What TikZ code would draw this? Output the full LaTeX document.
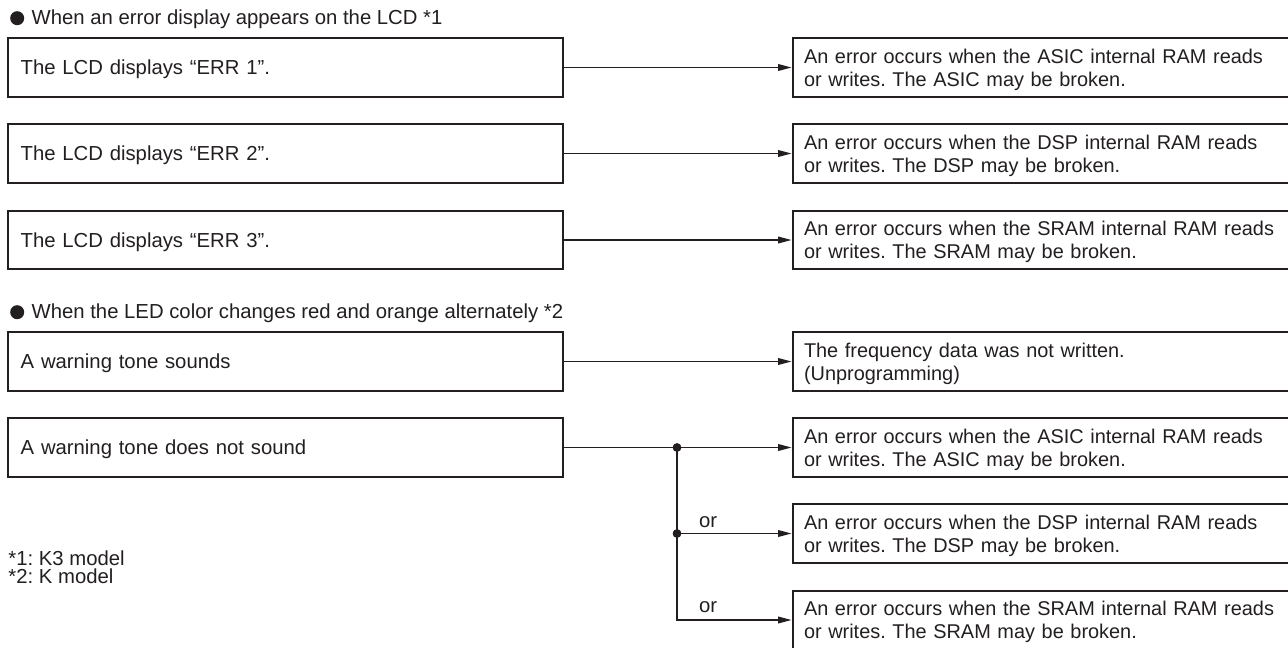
\documentclass[tikz,border=0pt]{standalone}
\usepackage{fontspec}
\setmainfont{Liberation Sans}
\usetikzlibrary{arrows.meta}
\definecolor{ink}{HTML}{231F20}
\frenchspacing
\tikzset{
  txt/.style={font=\fontsize{20.3pt}{23.3pt}\selectfont, text=ink},
  rtxt/.style={font=\fontsize{19.9pt}{23.3pt}\selectfont, text=ink},
  lbox/.style={txt, draw=ink, line width=2pt, rectangle, inner ysep=0pt, inner xsep=12.4pt,
    text width=529.6pt, align=left, minimum height=58.4pt, text height=14.4pt, text depth=0pt},
  rbox/.style={rtxt, draw=ink, line width=2pt, rectangle, inner ysep=0pt, inner xsep=11.3pt,
    text width=504.7pt, align=left, minimum height=58.4pt, text height=14.3pt, text depth=23.3pt},
  conn/.style={draw=ink, line width=1.7pt, -{Triangle[length=13.5pt,width=6.5pt]}},
  jdot/.style={circle, fill=ink, inner sep=0pt, minimum size=8.5pt},
  hbullet/.style={circle, fill=ink, inner sep=0pt, minimum size=14pt},
  plain/.style={txt, inner sep=0pt, anchor=base west},
}
\begin{document}
\begin{tikzpicture}[x=1pt,y=-1pt]
\useasboundingbox (0,0) rectangle (1288,648);
\clip (0,0) rectangle (1288,648);
\fill[white] (0,0) rectangle (1288,648);

% headings
\node[hbullet] (b1) at (17.2,18.2) {};
\node[plain] (h1) at (31.5,24.5) {When an error display appears on the LCD *1};
\node[hbullet] (b2) at (17.2,312.2) {};
\node[plain] (h2) at (31.5,318.5) {When the LED color changes red and orange alternately *2};

% left boxes
\node[lbox] (l1) at (285.5,67.5)  {The LCD displays “ERR 1”.};
\node[lbox] (l2) at (285.5,153.5) {The LCD displays “ERR 2”.};
\node[lbox] (l3) at (285.5,240)   {The LCD displays “ERR 3”.};
\node[lbox] (l4) at (285.5,361.5) {A warning tone sounds};
\node[lbox] (l5) at (285.5,447.5) {A warning tone does not sound};

% right boxes
\node[rbox] (r1) at (1056.35,67.5)  {An error occurs when the ASIC internal RAM reads\\or writes. The ASIC may be broken.};
\node[rbox] (r2) at (1056.35,153.5) {An error occurs when the DSP internal RAM reads\\or writes. The DSP may be broken.};
\node[rbox] (r3) at (1056.35,240)   {An error occurs when the SRAM internal RAM reads\\or writes. The SRAM may be broken.};
\node[rbox] (r4) at (1056.35,361.5) {The frequency data was not written.\\(Unprogramming)};
\node[rbox] (r5) at (1056.35,447.5) {An error occurs when the ASIC internal RAM reads\\or writes. The ASIC may be broken.};
\node[rbox] (r6) at (1056.35,533.5) {An error occurs when the DSP internal RAM reads\\or writes. The DSP may be broken.};
\node[rbox] (r7) at (1056.35,620)   {An error occurs when the SRAM internal RAM reads\\or writes. The SRAM may be broken.};

% connectors
\draw[conn] (l1.east) -- (r1.west);
\draw[conn] (l2.east) -- (r2.west);
\draw[conn] (l3.east) -- (r3.west);
\draw[conn] (l4.east) -- (r4.west);
\draw[conn] (l5.east) -- (r5.west);

\coordinate (j3) at (677,620);
\node[jdot] (j1) at (677,447.5) {};
\node[jdot] (j2) at (677,533.5) {};
\draw[conn] (j1.center) -- (j3) -- (r7.west);
\draw[conn] (j2.center) -- (r6.west);
\node[jdot] at (j1) {};
\node[jdot] at (j2) {};

\node[plain] (or1) at (699,527.3) {or};
\node[plain] (or2) at (699,612.7) {or};

% footnotes
\node[plain] (fn1) at (8.3,565) {*1: K3 model};
\node[plain] (fn2) at (8.3,583.3) {*2: K model};
\end{tikzpicture}
\end{document}
